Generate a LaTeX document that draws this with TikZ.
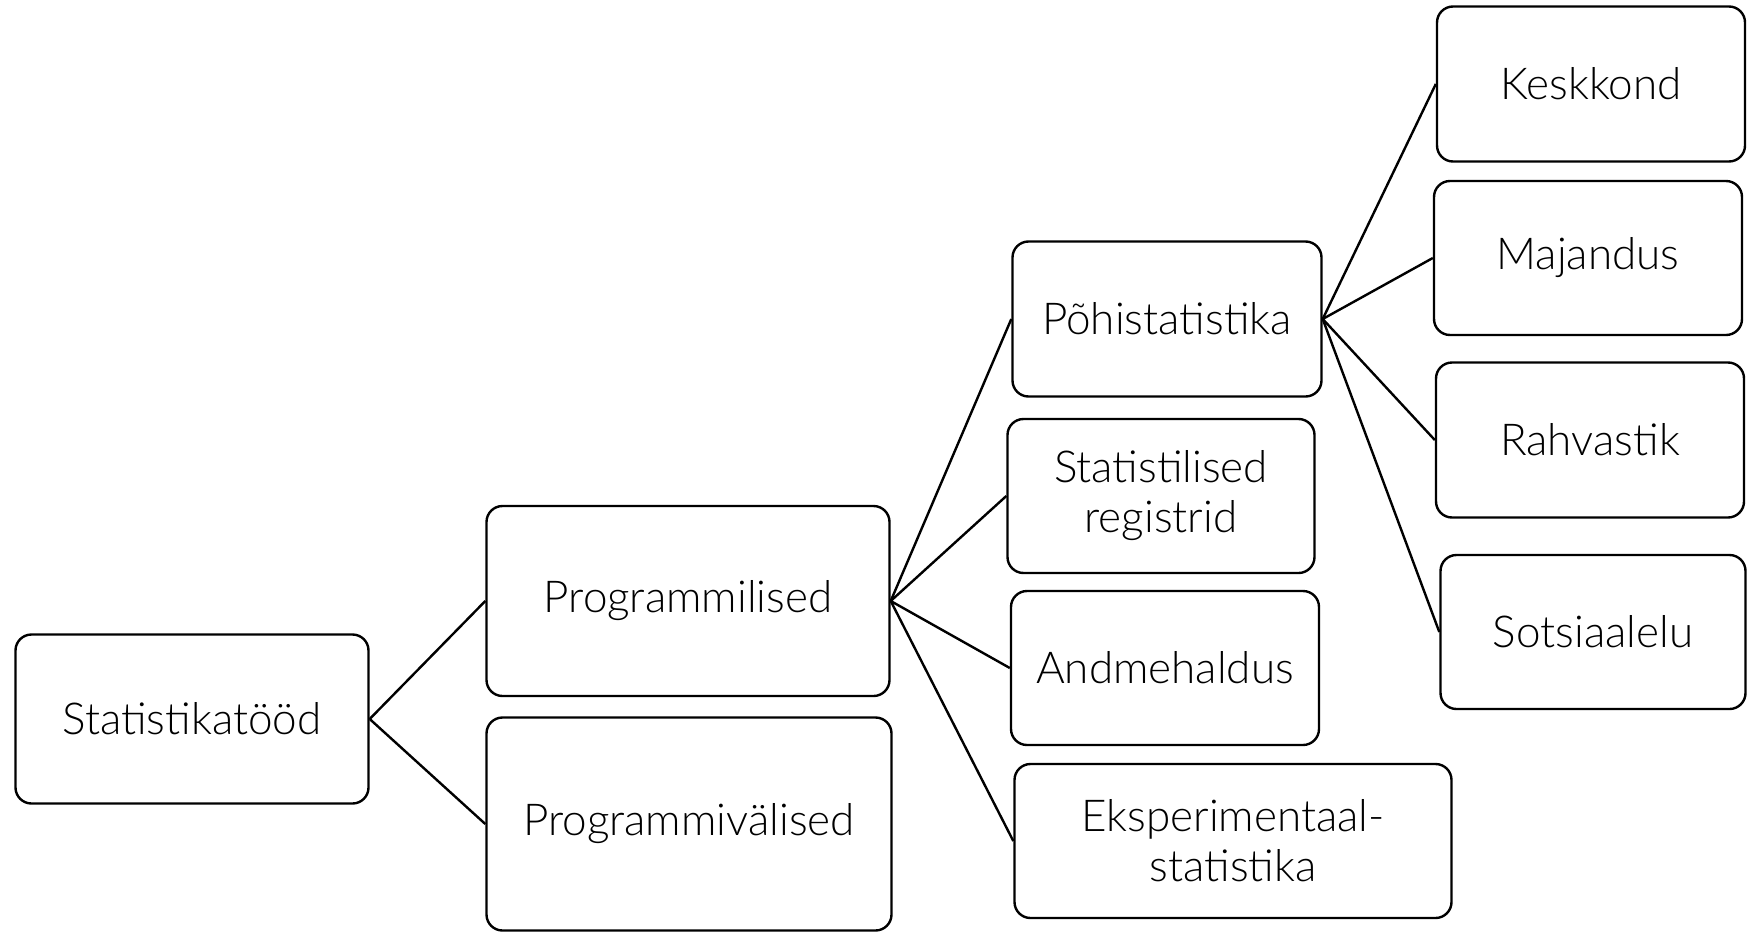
\documentclass[tikz,border=0pt]{standalone}
\usepackage{fontspec}
\setmainfont{Lato Light}
\usepackage{tikz}

\begin{document}
\begin{tikzpicture}[-, x=1pt, y=-1pt, line width=2.4pt,
  nodes={draw, rounded corners=16pt, align=center, inner sep=0pt,
    font=\fontsize{44}{50}\selectfont}]

  \useasboundingbox (0,0) rectangle (1747,934);

  \node (stat) [minimum width=353pt, minimum height=169pt] at (192,719) {Statistikatööd};
  \node (prog) [minimum width=403pt, minimum height=190pt] at (688,601) {Programmilised};
  \node (progv) [minimum width=405pt, minimum height=213pt] at (689,824) {Programmivälised};
  \node (pohi) [minimum width=309pt, minimum height=155pt] at (1167,319) {Põhistatistika};
  \node (reg) [minimum width=307pt, minimum height=154pt] at (1161,496) {Statistilised\\registrid};
  \node (andm) [minimum width=308pt, minimum height=154pt] at (1165,668) {Andmehaldus};
  \node (eksp) [minimum width=437pt, minimum height=154pt] at (1233,841) {Eksperimentaal-\\statistika};
  \node (kesk) [minimum width=308pt, minimum height=155pt] at (1591,84) {Keskkond};
  \node (maj) [minimum width=308pt, minimum height=154pt] at (1588,258) {Majandus};
  \node (rahv) [minimum width=308pt, minimum height=155pt] at (1590,440) {Rahvastik};
  \node (sots) [minimum width=305pt, minimum height=154pt] at (1593,632) {Sotsiaalelu};

  \path (stat.east) edge (prog.west);
  \path (stat.east) edge (progv.west);
  \path (prog.east) edge (pohi.west);
  \path (prog.east) edge (reg.west);
  \path (prog.east) edge (andm.west);
  \path (prog.east) edge (eksp.west);
  \path (pohi.east) edge (kesk.west);
  \path (pohi.east) edge (maj.west);
  \path (pohi.east) edge (rahv.west);
  \path (pohi.east) edge (sots.west);

\end{tikzpicture}
\end{document}
